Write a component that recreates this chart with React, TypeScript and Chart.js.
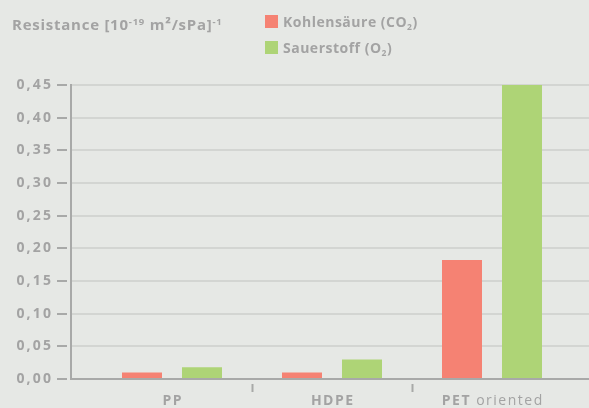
import React, { useEffect, useRef } from 'react';
import { Chart, registerables } from 'chart.js';

Chart.register(...registerables);

const categories = ['PP', 'HDPE', 'PET oriented'];
const co2Values = [0.01, 0.01, 0.182];
const o2Values = [0.018, 0.03, 0.45];
const yTickValues = [0, 0.05, 0.1, 0.15, 0.2, 0.25, 0.3, 0.35, 0.4, 0.45];
const seriesNames = ['Kohlensäure (CO₂)', 'Sauerstoff (O₂)'];
const legendParts = [
  ['Kohlensäure (CO', '2', ')'],
  ['Sauerstoff (O', '2', ')'],
];

const BG = '#e6e8e5';
const TEXT = '#a3a3a3';
const AXIS = '#a8a9a8';
const GRID = '#d3d5d2';
const RED = '#f58273';
const GREEN = '#aed476';
const FONT = '"Open Sans", Lato, sans-serif';

const xLabelPlugin = {
  id: 'xLabels',
  afterDraw(chart: any) {
    const ctx = chart.ctx;
    const xs = chart.scales.x;
    ctx.save();
    ctx.fillStyle = TEXT;
    ctx.textBaseline = 'alphabetic';
    ctx.textAlign = 'left';
    (ctx as any).letterSpacing = '1.5px';
    categories.forEach((c, i) => {
      const idx = c.indexOf(' ');
      const first = idx >= 0 ? c.slice(0, idx) : c;
      const rest = idx >= 0 ? c.slice(idx) : '';
      ctx.font = `bold 14px ${FONT}`;
      const w1 = ctx.measureText(first).width;
      ctx.font = `14px ${FONT}`;
      const w2 = rest ? ctx.measureText(rest).width : 0;
      const cx = xs.getPixelForValue(i);
      const x0 = cx - (w1 + w2) / 2 + 0.75;
      ctx.font = `bold 14px ${FONT}`;
      ctx.fillText(first, x0, 405);
      if (rest) {
        ctx.font = `14px ${FONT}`;
        ctx.fillText(rest, x0 + w1, 405);
      }
    });
    ctx.restore();
  },
};

const spacingPlugin = {
  id: 'spacing',
  beforeDraw(chart: any) {
    (chart.ctx as any).letterSpacing = '2.2px';
  },
};

export default function App() {
  const ref = useRef<HTMLCanvasElement | null>(null);

  useEffect(() => {
    if (!ref.current) return;
    const chart = new Chart(ref.current, {
      type: 'bar',
      data: {
        labels: categories,
        datasets: [
          { label: seriesNames[0], data: co2Values, backgroundColor: RED, borderWidth: 0 },
          { label: seriesNames[1], data: o2Values, backgroundColor: GREEN, borderWidth: 0 },
        ],
      },
      options: {
        animation: false,
        responsive: false,
        maintainAspectRatio: false,
        layout: { padding: { top: 85, left: 0, right: 0, bottom: 0 } },
        datasets: { bar: { categoryPercentage: 0.75, barPercentage: 0.6667 } } as any,
        plugins: { legend: { display: false }, tooltip: { enabled: false }, title: { display: false } },
        scales: {
          x: {
            type: 'category',
            offset: true,
            afterBuildTicks(scale: any) {
              scale._startValue = -0.63125;
              scale._valueRange = 3.2375;
            },
            afterFit(scale: any) {
              scale.height = 29;
            },
            grid: {
              display: true,
              offset: true,
              drawOnChartArea: false,
              drawTicks: true,
              tickLength: 13,
              tickWidth: 2,
              tickColor: (c: any) => (c.index === 1 || c.index === 2 ? AXIS : 'rgba(0,0,0,0)'),
              tickBorderDash: [0, 4, 8, 50],
            } as any,
            border: { display: true, color: AXIS, width: 2 },
            ticks: { display: false },
          },
          y: {
            type: 'linear',
            min: 0,
            max: 0.45,
            afterBuildTicks(scale: any) {
              scale.ticks = yTickValues.map((v) => ({ value: v }));
            },
            afterFit(scale: any) {
              scale.width = 71;
            },
            grid: {
              color: (c: any) => (c.tick && c.tick.value === 0 ? 'rgba(0,0,0,0)' : GRID),
              lineWidth: 2,
              drawTicks: true,
              tickLength: 14,
              tickWidth: 2,
              tickColor: AXIS,
              tickBorderDash: [10, 50],
            } as any,
            border: { display: true, color: AXIS, width: 2 },
            ticks: {
              padding: 3.8,
              color: TEXT,
              font: { family: FONT, size: 14, weight: 'bold' },
              callback: (v: any) => Number(v).toFixed(2).replace('.', ','),
            },
          },
        },
      },
      plugins: [spacingPlugin, xLabelPlugin],
    });
    return () => chart.destroy();
  }, []);

  const textStyle: React.CSSProperties = {
    position: 'absolute',
    fontFamily: FONT,
    fontWeight: 700,
    fontSize: 14,
    lineHeight: '20px',
    color: TEXT,
    letterSpacing: '0.5px',
    whiteSpace: 'nowrap',
  };
  const supStyle: React.CSSProperties = { fontSize: 9.5, verticalAlign: '5px', letterSpacing: '0.8px' };
  const subStyle: React.CSSProperties = { fontSize: 8.5, verticalAlign: '-3px' };

  return (
    <div style={{ position: 'fixed', left: 0, top: 0, width: 589, height: 408, background: BG, overflow: 'hidden' }}>
      <canvas ref={ref} width={589} height={408} style={{ position: 'absolute', left: 0, top: 0, width: 589, height: 408 }} />
      <div style={{ ...textStyle, left: 12, top: 12, fontSize: 15, letterSpacing: '0.75px' }}>
        Resistance [10<span style={supStyle}>-19</span> m²/sPa]<span style={supStyle}>-1</span>
      </div>
      {legendParts.map((p, i) => (
        <React.Fragment key={i}>
          <div style={{ position: 'absolute', left: 265, top: 15 + i * 26, width: 13, height: 13, background: i === 0 ? RED : GREEN }} />
          <div style={{ ...textStyle, left: 283, top: 12 + i * 26 }}>
            {p[0]}
            <span style={subStyle}>{p[1]}</span>
            {p[2]}
          </div>
        </React.Fragment>
      ))}
    </div>
  );
}
